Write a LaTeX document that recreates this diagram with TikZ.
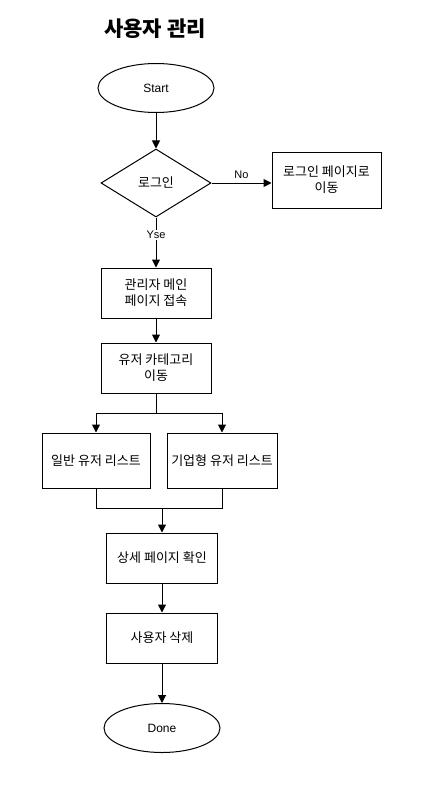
\documentclass[tikz,border=0pt]{standalone}
\usepackage{fontspec}
\setmainfont{Liberation Sans}
\newfontfamily\kr{Noto Sans CJK KR}
\usetikzlibrary{positioning, shapes.geometric, arrows.meta}

\begin{document}
\begin{tikzpicture}[x=1pt, y=-1pt,
    terminal/.style={ellipse,
        draw=black,
        line width=1pt,
        minimum width=116pt,
        minimum height=49pt,
        inner sep=0pt,
        font=\fontsize{12}{14}\selectfont,
        },
    decision/.style={diamond,
        draw=black,
        line width=1pt,
        aspect=1.6,
        minimum width=110pt,
        minimum height=68pt,
        inner sep=0pt,
        font=\kr\fontsize{13}{15}\selectfont,
        },
    process/.style={rectangle,
        draw=black,
        line width=1pt,
        minimum width=110pt,
        minimum height=50pt,
        inner sep=0pt,
        align=center,
        font=\kr\fontsize{13}{16}\selectfont,
        },
    flow/.style={line width=1pt,
        -{Triangle[length=8pt, width=8pt]},
        },
    link/.style={line width=1pt},
    ]
    \useasboundingbox (0,0) rectangle (426,792);

    \node[font=\kr\bfseries\fontsize{21}{24}\selectfont] (n_title) at (155,29) {사용자 관리};

    \node[terminal] (n_start) at (156,88) {Start};
    \node[decision] (n_login) at (156,183) {로그인};
    \node[process, minimum width=109pt, minimum height=56pt] (n_loginpage) at (326.5,180) {로그인 페이지로\\이동};
    \node[process] (n_main) at (156,293) {관리자 메인\\페이지 접속};
    \node[process] (n_category) at (156,368) {유저 카테고리\\이동};
    \node[process, minimum width=108pt, minimum height=55pt] (n_normal) at (96,460.5) {일반 유저 리스트};
    \node[process, minimum width=110pt, minimum height=55pt] (n_company) at (222,460.5) {기업형 유저 리스트};
    \node[process, minimum width=111pt] (n_detail) at (162,558) {상세 페이지 확인};
    \node[process, minimum width=111pt] (n_delete) at (162,638) {사용자 삭제};
    \node[terminal] (n_done) at (162,728) {Done};

    \coordinate (c_split) at (156,413);
    \coordinate (c_merge) at (162,508);

    % connectors
    \draw[flow] (n_start) -- (n_login);
    \draw[flow] (n_login.east) -- node[above, font=\fontsize{11}{13}\selectfont, yshift=1pt] {No} (n_loginpage.west |- n_login.east);
    \draw[flow] (n_login.south) -- node[pos=0.35, fill=white, inner sep=1pt, font=\fontsize{11}{13}\selectfont] {Yse} (n_main.north);
    \draw[flow] (n_main) -- (n_category);
    \draw[link] (n_category.south) -- (c_split);
    \draw[flow] (c_split) -| (n_normal.north);
    \draw[flow] (c_split) -| (n_company.north);
    \draw[link] (n_normal.south) |- (c_merge);
    \draw[link] (n_company.south) |- (c_merge);
    \draw[flow] (c_merge) -- (n_detail.north);
    \draw[flow] (n_detail) -- (n_delete);
    \draw[flow] (n_delete) -- (n_done);

\end{tikzpicture}
\end{document}
